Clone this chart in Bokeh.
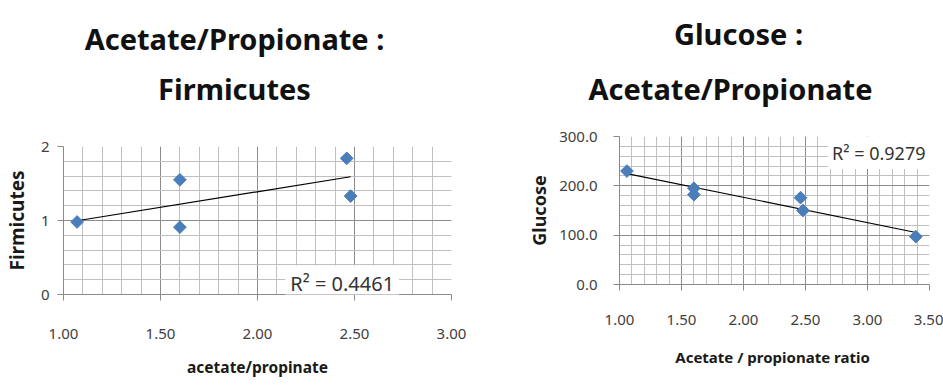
import numpy as np
from bokeh.plotting import figure
from bokeh.layouts import row, column
from bokeh.models import Label, Range1d, FixedTicker, NumeralTickFormatter
from bokeh.embed import file_html
from bokeh.resources import INLINE

# ---------------- data ----------------
# Left chart: Acetate/Propionate vs Firmicutes
left_title_1 = "Acetate/Propionate :"
left_title_2 = "Firmicutes"
left_x = [1.07, 1.60, 1.60, 2.46, 2.48]
left_y = [0.98, 0.91, 1.55, 1.84, 1.33]
left_r2 = "R\u00b2 = 0.4461"
left_xlabel = "acetate/propinate"
left_ylabel = "Firmicutes"
left_xticks = [1.0, 1.5, 2.0, 2.5, 3.0]
left_yticks = [0, 1, 2]

# Right chart: Glucose vs Acetate/Propionate
right_title_1 = "Glucose :"
right_title_2 = "Acetate/Propionate"
right_x = [1.06, 1.60, 1.60, 2.46, 2.48, 3.39]
right_y = [230, 195, 182, 176, 150, 97]
right_r2 = "R\u00b2 = 0.9279"
right_xlabel = "Acetate / propionate  ratio"
right_ylabel = "Glucose"
right_xticks = [1.0, 1.5, 2.0, 2.5, 3.0, 3.5]
right_yticks = [0, 100, 200, 300]

# ---------------- style ----------------
FONT = "Noto Sans"
BLUE = "#4a7ebb"
MINOR_GRID = "#bfbfbf"
MAJOR_GRID = "#8c8c8c"
AXIS_COL = "#8a8a8a"
TICK_TXT = "#404040"
TITLE_H = 110


def style_axes(p, x_std, y_std, xl_std, yl_std, xlabel_size, ylabel_size):
    for ax in (p.xaxis[0], p.yaxis[0]):
        ax.axis_line_color = AXIS_COL
        ax.major_tick_line_color = AXIS_COL
        ax.major_tick_in = 0
        ax.major_tick_out = 6
        ax.minor_tick_in = 0
        ax.minor_tick_out = 0
        ax.major_label_text_font = FONT
        ax.major_label_text_font_size = "15px"
        ax.major_label_text_color = TICK_TXT
        ax.axis_label_text_font = FONT
        ax.axis_label_text_font_style = "bold"
        ax.axis_label_text_color = "#1a1a1a"
    p.xaxis[0].major_label_standoff = x_std
    p.yaxis[0].major_label_standoff = y_std
    p.xaxis[0].axis_label_standoff = xl_std
    p.yaxis[0].axis_label_standoff = yl_std
    p.xaxis[0].axis_label_text_font_size = xlabel_size
    p.yaxis[0].axis_label_text_font_size = ylabel_size
    for g in (p.xgrid[0], p.ygrid[0]):
        g.grid_line_color = MAJOR_GRID
        g.grid_line_width = 1
        g.minor_grid_line_color = MINOR_GRID
        g.minor_grid_line_width = 1
    p.outline_line_color = None
    p.background_fill_color = "white"
    p.border_fill_color = "white"


# ---------------- title strip ----------------
pt = figure(width=943, height=TITLE_H, output_backend="svg", toolbar_location=None,
            x_range=Range1d(0, 943), y_range=Range1d(TITLE_H, 0),
            min_border=0, x_axis_type=None, y_axis_type=None)
pt.grid.visible = False
pt.outline_line_color = None
pt.border_fill_color = "white"
for txt, xx, yy in ((left_title_1, 234, 38), (left_title_2, 234, 88),
                    (right_title_1, 738, 33), (right_title_2, 730, 88)):
    pt.add_layout(Label(x=xx, y=yy, text=txt, text_font=FONT, text_font_style="bold",
                        text_font_size="29px", text_color="#111111",
                        text_align="center", text_baseline="alphabetic"))

# ---------------- left chart ----------------
p1 = figure(width=500, height=385 - TITLE_H, output_backend="svg", toolbar_location=None,
            x_range=Range1d(1.0, 3.0), y_range=Range1d(0, 2),
            min_border_left=59, min_border_right=49,
            min_border_top=146 - TITLE_H, min_border_bottom=91,
            x_axis_label=left_xlabel, y_axis_label=left_ylabel)
p1.xaxis[0].ticker = FixedTicker(ticks=left_xticks,
                                 minor_ticks=list(np.round(np.arange(1.0, 3.01, 0.1), 2)))
p1.yaxis[0].ticker = FixedTicker(ticks=left_yticks,
                                 minor_ticks=list(np.round(np.arange(0, 2.01, 0.2), 2)))
p1.xgrid[0].ticker = p1.xaxis[0].ticker
p1.ygrid[0].ticker = p1.yaxis[0].ticker
p1.xaxis[0].formatter = NumeralTickFormatter(format="0.00")
p1.yaxis[0].formatter = NumeralTickFormatter(format="0")
style_axes(p1, x_std=28, y_std=8, xl_std=14, yl_std=8,
           xlabel_size="15.5px", ylabel_size="19px")

lx = np.array(left_x)
ly = np.array(left_y)
k1, b1 = np.polyfit(lx, ly, 1)
fx1 = np.array([lx.min(), lx.max()])
p1.line(fx1, k1 * fx1 + b1, line_color="black", line_width=1.2)
p1.scatter(left_x, left_y, marker="square", angle=np.pi / 4, size=9,
           fill_color=BLUE, line_color=BLUE)
p1.add_layout(Label(x=2.143, y=0.142, text=left_r2, text_font=FONT,
                    text_font_size="20px", text_color="#333333",
                    text_align="left", text_baseline="middle",
                    background_fill_color="white", padding=5))

# ---------------- right chart ----------------
p2 = figure(width=443, height=385 - TITLE_H, output_backend="svg", toolbar_location=None,
            x_range=Range1d(1.0, 3.5), y_range=Range1d(0, 300),
            min_border_left=119, min_border_right=14,
            min_border_top=136 - TITLE_H, min_border_bottom=101,
            x_axis_label=right_xlabel, y_axis_label=right_ylabel)
p2.xaxis[0].ticker = FixedTicker(ticks=right_xticks,
                                 minor_ticks=list(np.round(np.arange(1.0, 3.51, 0.1), 2)))
p2.yaxis[0].ticker = FixedTicker(ticks=right_yticks,
                                 minor_ticks=list(np.round(np.arange(0, 301, 20), 1)))
p2.xgrid[0].ticker = p2.xaxis[0].ticker
p2.ygrid[0].ticker = p2.yaxis[0].ticker
p2.xaxis[0].formatter = NumeralTickFormatter(format="0.00")
p2.yaxis[0].formatter = NumeralTickFormatter(format="0.0")
style_axes(p2, x_std=24, y_std=16, xl_std=19, yl_std=5,
           xlabel_size="15px", ylabel_size="18px")

rx = np.array(right_x)
ry = np.array(right_y)
k2, b2 = np.polyfit(rx, ry, 1)
fx2 = np.array([rx.min(), rx.max()])
p2.line(fx2, k2 * fx2 + b2, line_color="black", line_width=1.2)
p2.scatter(right_x, right_y, marker="square", angle=np.pi / 4, size=9,
           fill_color=BLUE, line_color=BLUE)
p2.add_layout(Label(x=3.5, y=266.5, text=right_r2, text_font=FONT,
                    text_font_size="18px", text_color="#333333",
                    text_align="right", text_baseline="middle",
                    background_fill_color="white", padding=4))

layout = column(pt, row(column(p1), column(p2)))
open("out.html", "w").write(file_html(layout, INLINE))
